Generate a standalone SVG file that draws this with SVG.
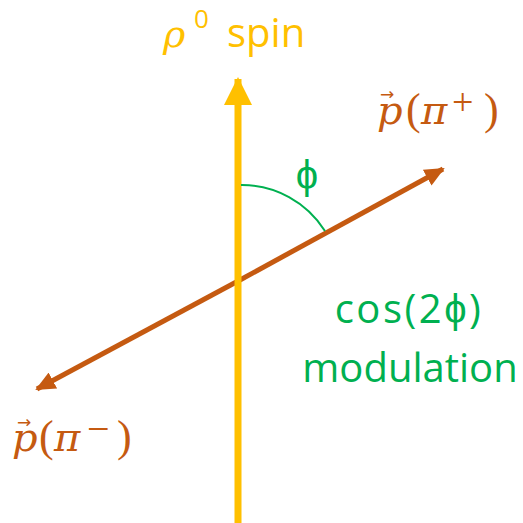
<svg xmlns="http://www.w3.org/2000/svg" width="523" height="523" viewBox="0 0 523 523">
<style>
.math{font-family:"DejaVu Serif","Liberation Serif",serif;font-style:italic;fill:#C55A11}
.up{font-family:"Liberation Serif",serif;font-style:normal}
.sans{font-family:"Open Sans","Liberation Sans",sans-serif}
.green{fill:#00B050}
.vec{font-family:"DejaVu Sans",sans-serif;font-size:17px;font-style:normal}
</style>
<defs>
<marker id="ay" markerUnits="userSpaceOnUse" markerWidth="28" markerHeight="28" refX="26" refY="14" orient="auto" viewBox="0 0 28 28"><path d="M0,0 L28,14 L0,28 Z" fill="#FFC000"/></marker>
<marker id="ao" markerUnits="userSpaceOnUse" markerWidth="20" markerHeight="18" refX="18" refY="9" orient="auto" viewBox="0 0 20 18"><path d="M0,0 L20,9 L0,18 Z" fill="#C55A11"/></marker>
</defs>
<g id="connectors">
<line id="pion-axis" x1="240" y1="280" x2="443" y2="169" stroke="#C55A11" stroke-width="5" marker-end="url(#ao)"/>
<line id="pion-axis-neg" x1="240" y1="280" x2="37" y2="389" stroke="#C55A11" stroke-width="5" marker-end="url(#ao)"/>
<line id="spin-axis" x1="238" y1="523" x2="238" y2="79" stroke="#FFC000" stroke-width="7" marker-end="url(#ay)"/>
<path id="phi-arc" d="M241,185 A98,98 0 0 1 325,231" fill="none" stroke="#00B050" stroke-width="2"/>
</g>
<g id="spin-label">
<text y="47" font-size="40" fill="#FFC000"><tspan x="163" font-family="DejaVu Serif" font-style="italic" font-size="38">ρ</tspan><tspan x="194" y="28" font-family="Open Sans" font-size="26">0</tspan><tspan x="227" y="47" class="sans">spin</tspan></text>
</g>
<g id="pplus-label">
<text y="124" font-size="40" class="math"><tspan x="377">p</tspan><tspan x="406" class="up" font-size="44">(</tspan><tspan x="421">π</tspan><tspan x="452" y="115" class="up" font-size="38">+</tspan><tspan x="484" y="124" class="up" font-size="44">)</tspan><tspan x="380" y="100" class="vec">→</tspan></text>
</g>
<g id="pminus-label">
<text y="451" font-size="40" class="math"><tspan x="12">p</tspan><tspan x="39" class="up" font-size="44">(</tspan><tspan x="54">π</tspan><tspan x="87" y="442" class="up" font-size="40">−</tspan><tspan x="117" y="451" class="up" font-size="44">)</tspan><tspan x="17" y="428" class="vec">→</tspan></text>
</g>
<g id="phi-label">
<text x="307" y="189" font-size="40" class="sans green" text-anchor="middle">ϕ</text>
</g>
<g id="modulation-label">
<text x="409" y="323" font-size="40" class="sans green" text-anchor="middle" letter-spacing="2.5">cos(2ϕ)</text>
<text x="410" y="382" font-size="40" class="sans green" text-anchor="middle">modulation</text>
</g>
</svg>
